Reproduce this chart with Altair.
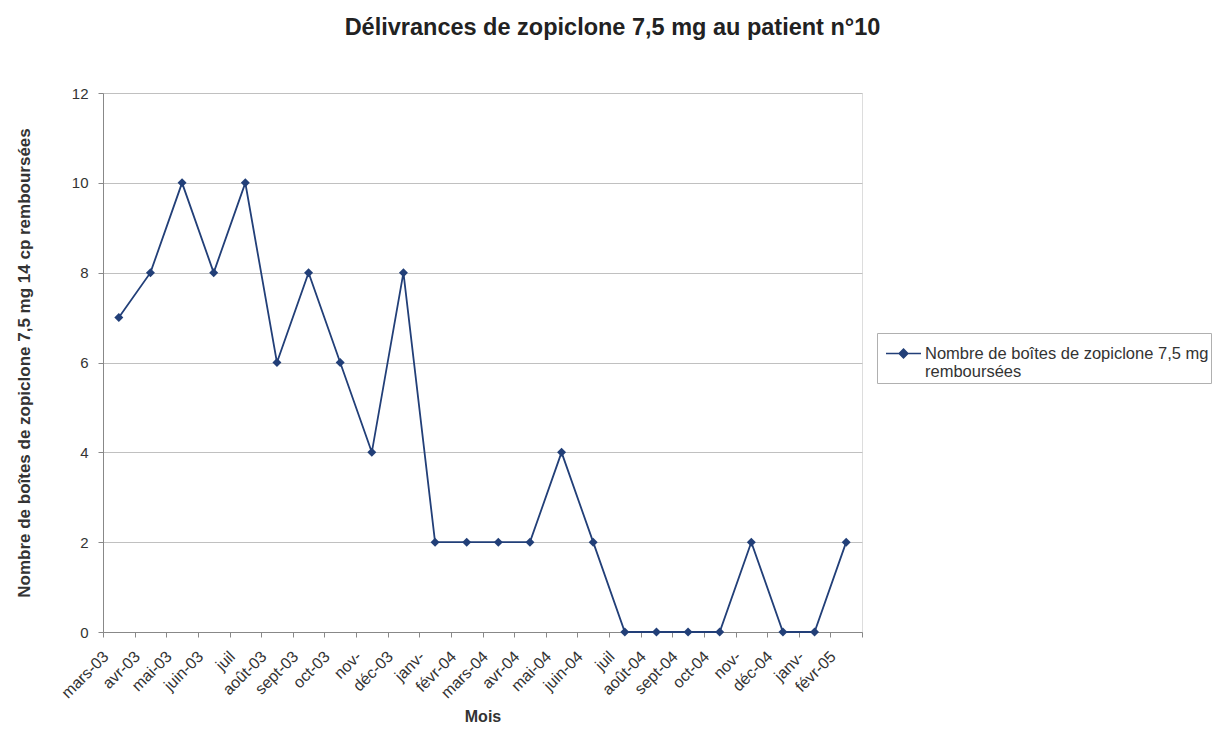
import altair as alt
import pandas as pd

month_labels = ["mars-03", "avr-03", "mai-03", "juin-03", "juil", "août-03", "sept-03", "oct-03",
                "nov-", "déc-03", "janv-", "févr-04", "mars-04", "avr-04", "mai-04", "juin-04",
                "juil", "août-04", "sept-04", "oct-04", "nov-", "déc-04", "janv-", "févr-05"]
boxes = [7, 8, 10, 8, 10, 6, 8, 6, 4, 8, 2, 2, 2, 2, 4, 2, 0, 0, 0, 0, 2, 0, 0, 2]
series_name = "Nombre de boîtes de zopiclone 7,5 mg remboursées"

df = pd.DataFrame({
    "idx": list(range(len(boxes))),
    "val": boxes,
    "serie": [series_name] * len(boxes),
})

label_array = "[" + ",".join("'" + m + "'" for m in month_labels) + "]"
navy = "#223f78"
font = "Liberation Sans"
txt = "#333333"

x_enc = alt.X("idx:O",
              scale=alt.Scale(type="band", paddingInner=0, paddingOuter=0),
              axis=alt.Axis(title="Mois", labelExpr=label_array + "[datum.value]",
                            labelAngle=-45, labelAlign="right", labelBaseline="top",
                            tickBand="extent", tickSize=5, tickColor="#888888",
                            domainColor="#888888", labelColor=txt, labelFontSize=16,
                            labelPadding=11, labelOffset=-19,
                            titleFontSize=16, titleFontWeight="bold",
                            titleColor=txt, titleY=89, titleBaseline="alphabetic",
                            labelFont=font, titleFont=font, grid=False))
y_enc = alt.Y("val:Q",
              scale=alt.Scale(domain=[0, 12], nice=False),
              axis=alt.Axis(title="Nombre de boîtes de zopiclone 7,5 mg 14 cp remboursées",
                            values=[0, 2, 4, 6, 8, 10, 12], tickSize=5, tickColor="#888888",
                            domainColor="#888888", labelColor=txt, labelFontSize=15,
                            labelPadding=10, gridColor="#c0c0c0", gridWidth=1,
                            titleFontSize=17, titleFontWeight="bold", titleColor=txt,
                            titlePadding=38, labelFont=font, titleFont=font))
color_enc = alt.Color("serie:N",
                      scale=alt.Scale(range=[navy]),
                      legend=alt.Legend(title=None, orient="none", legendX=774, legendY=240,
                                        symbolType="M-1,0H1M0,-0.25L0.25,0L0,0.25L-0.25,0Z",
                                        symbolSize=1225, symbolStrokeWidth=1.5,
                                        symbolFillColor=navy, symbolStrokeColor=navy,
                                        symbolOffset=6,
                                        labelExpr="['Nombre de boîtes de zopiclone 7,5 mg', 'remboursées']",
                                        labelFontSize=16.5, labelColor=txt, labelFont=font,
                                        labelLimit=800, labelBaseline="middle",
                                        strokeColor="#b0b0b0", fillColor="white", padding=2,
                                        cornerRadius=0, labelOffset=3))

line = alt.Chart(df).mark_line(color=navy, strokeWidth=1.8).encode(x=x_enc, y=y_enc, color=color_enc)
pts = alt.Chart(df).mark_point(shape="diamond", filled=True, size=80, opacity=1, color=navy).encode(
    x=x_enc, y=y_enc)

chart = alt.layer(line, pts).properties(
    width=759, height=539,
    title=alt.TitleParams("Délivrances de zopiclone 7,5 mg au patient n°10", fontSize=23.5,
                          fontWeight="bold", font=font, color="#222222", anchor="middle",
                          dx=130, offset=47),
    autosize=alt.AutoSizeParams(type="none"),
    padding={"left": 95, "top": 85, "right": 353, "bottom": 94},
).configure_view(stroke="#888888", strokeWidth=1).configure(background="white")

chart.save("out.html", embed_options={"renderer": "svg", "actions": False})
